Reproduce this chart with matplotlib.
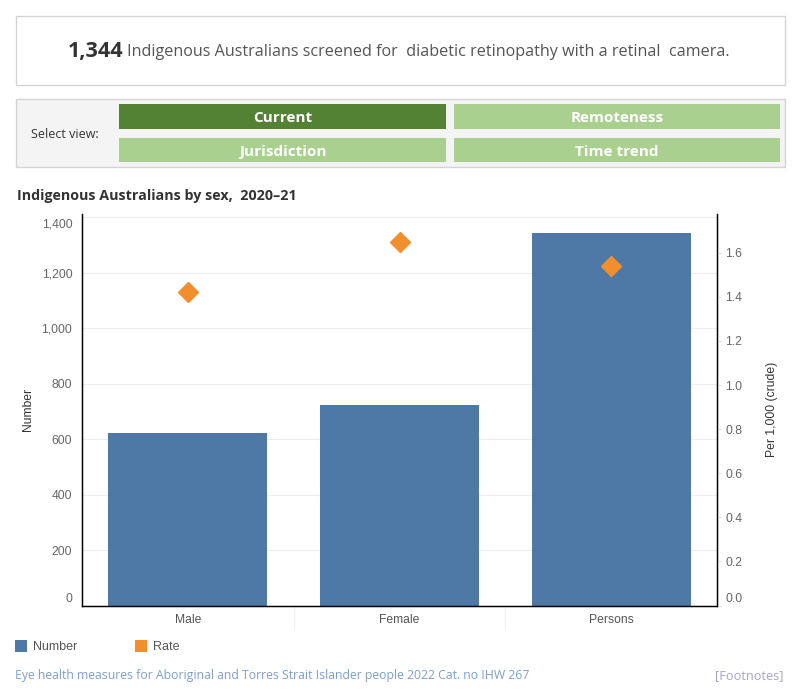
import matplotlib
matplotlib.use('Agg')
import matplotlib.pyplot as plt
from matplotlib.patches import Rectangle
import matplotlib.transforms as mtransforms

# ---- data ----
categories = ['Male', 'Female', 'Persons']
numbers = [622, 722, 1344]
rates = [1.42, 1.65, 1.54]
left_ticks = [0, 200, 400, 600, 800, 1000, 1200, 1400]
right_ticks = [0.0, 0.2, 0.4, 0.6, 0.8, 1.0, 1.2, 1.4, 1.6]
views = ['Current', 'Remoteness', 'Jurisdiction', 'Time trend']
active_view = 'Current'
headline_value = '1,344'
headline_text = 'Indigenous Australians screened for  diabetic retinopathy with a retinal  camera.'
chart_title = 'Indigenous Australians by sex,  2020–21'
footer_text = 'Eye health measures for Aboriginal and Torres Strait Islander people 2022 Cat. no IHW 267'

BLUE = '#4e79a7'
ORANGE = '#f28e2b'
DARK_GREEN = '#548235'
LIGHT_GREEN = '#a9d08e'

W, H = 800, 700
fig = plt.figure(figsize=(W / 100, H / 100), dpi=100)
fig.patch.set_facecolor('white')

def rect(x0, y0, x1, y1, fc, ec='none', lw=1.0):
    fig.patches.append(Rectangle((x0 / W, 1 - y1 / H), (x1 - x0) / W, (y1 - y0) / H,
                                 transform=fig.transFigure, facecolor=fc, edgecolor=ec,
                                 linewidth=lw, zorder=0))

def ftext(x, y, s, **kw):
    fig.text(x / W, 1 - y / H, s, **kw)

# ---- headline box ----
rect(15.5, 15.5, 784.5, 84.5, 'white', '#d4d4d4')
ftext(68, 51, headline_value, fontsize=15.5, fontweight='bold', color='#333333',
      family='Open Sans', ha='left', va='center')
ftext(127, 52, headline_text, fontsize=11.6, color='#555555',
      family='Open Sans', ha='left', va='center')

# ---- view selector ----
rect(15.5, 98.5, 784.5, 166.5, '#f4f4f4', '#d4d4d4')
ftext(65, 135, 'Select view:', fontsize=9, color='#333333', family='Open Sans',
      ha='center', va='center')
btn_pos = [(119, 104, 446, 129), (454, 104, 780, 129), (119, 138, 446, 162), (454, 138, 780, 162)]
for v, (x0, y0, x1, y1) in zip(views, btn_pos):
    rect(x0, y0, x1, y1, DARK_GREEN if v == active_view else LIGHT_GREEN)
    ftext((x0 + x1) / 2, (y0 + y1) / 2 + 2, v, fontsize=11, fontweight='bold', color='white',
          family='Open Sans', ha='center', va='center')

# ---- chart title ----
ftext(17, 196, chart_title, fontsize=10.3, fontweight='bold', color='#333333',
      family='Open Sans', ha='left', va='center')

# ---- main axes ----
ax_l, ax_r, ax_t, ax_b = 82, 717, 214, 605.5
ax = fig.add_axes([ax_l / W, 1 - ax_b / H, (ax_r - ax_l) / W, (ax_b - ax_t) / H])
x = list(range(len(categories)))
ax.bar(x, numbers, width=0.75, color=BLUE, zorder=2)
ax.set_xlim(-0.5, len(categories) - 0.5)
ax.set_ylim(0, 1411)
ax.set_yticks(left_ticks)
ax.set_yticklabels([f'{t:,}' for t in left_ticks])
ax.set_xticks(x)
ax.set_xticklabels(categories)
ax.set_axisbelow(True)
for t in left_ticks[1:]:
    ax.axhline(t, color='#ececec', lw=0.8, zorder=0)
ax.spines['top'].set_visible(False)
for s in ['left', 'right', 'bottom']:
    ax.spines[s].set_color('black')
    ax.spines[s].set_linewidth(1.0)
ax.tick_params(axis='y', length=0, pad=7, labelsize=8.7, labelcolor='#666666')
ax.tick_params(axis='x', length=0, pad=6, labelsize=8.7, labelcolor='#555555')
for lab in ax.get_yticklabels() + ax.get_xticklabels():
    lab.set_family('Liberation Sans')
ax.set_ylabel('Number', fontsize=8.7, color='#333333', family='Liberation Sans')
ax.yaxis.set_label_coords((34 - ax_l) / (ax_r - ax_l), 0.5)

# faint band separators below axis
trans = mtransforms.blended_transform_factory(ax.transData, ax.transAxes)
for xs in [0.5, 1.5]:
    ax.plot([xs, xs], [0, -22 / (ax_b - ax_t)], transform=trans, color='#f0f0f0',
            lw=0.8, clip_on=False)

ax2 = ax.twinx()
ax2.plot(x, rates, linestyle='none', marker='D', markersize=10.5, color=ORANGE, zorder=3)
ax2.set_ylim(0, 1.776)
ax2.set_yticks(right_ticks)
ax2.set_yticklabels([f'{t:.1f}' for t in right_ticks])
ax2.spines['top'].set_visible(False)
for s in ['left', 'right', 'bottom']:
    ax2.spines[s].set_color('black')
ax2.tick_params(axis='y', length=3, width=0.8, color='#dddddd', pad=3, labelsize=8.7,
                labelcolor='#666666')
for lab in ax2.get_yticklabels():
    lab.set_family('Liberation Sans')
ax2.set_ylabel('Per 1,000 (crude)', fontsize=8.7, color='#333333', family='Liberation Sans')
ax2.yaxis.set_label_coords((766 - ax_l) / (ax_r - ax_l), 0.5)

# shift edge tick labels inward like the reference
up = mtransforms.ScaledTranslation(0, 8 / 100, fig.dpi_scale_trans)
down = mtransforms.ScaledTranslation(0, -6 / 100, fig.dpi_scale_trans)
t0 = ax.yaxis.get_major_ticks()[0].label1
t0.set_transform(t0.get_transform() + up)
tt = ax.yaxis.get_major_ticks()[-1].label1
tt.set_transform(tt.get_transform() + down)
t1 = ax2.yaxis.get_major_ticks()[0].label2
t1.set_transform(t1.get_transform() + up)

# ---- legend ----
rect(15, 640, 27, 652, BLUE)
ftext(33, 646.5, 'Number', fontsize=9, color='#555555', family='Liberation Sans',
      ha='left', va='center')
rect(135, 640, 147, 652, ORANGE)
ftext(153, 646.5, 'Rate', fontsize=9, color='#555555', family='Liberation Sans',
      ha='left', va='center')

# ---- footer ----
ftext(15, 676, footer_text, fontsize=8.8, color='#7f9fca', family='Open Sans',
      ha='left', va='center')
ftext(784, 676, '[Footnotes]', fontsize=9.2, color='#a7a3cf', family='Open Sans',
      ha='right', va='center')

fig.savefig('out.png', dpi=100)
